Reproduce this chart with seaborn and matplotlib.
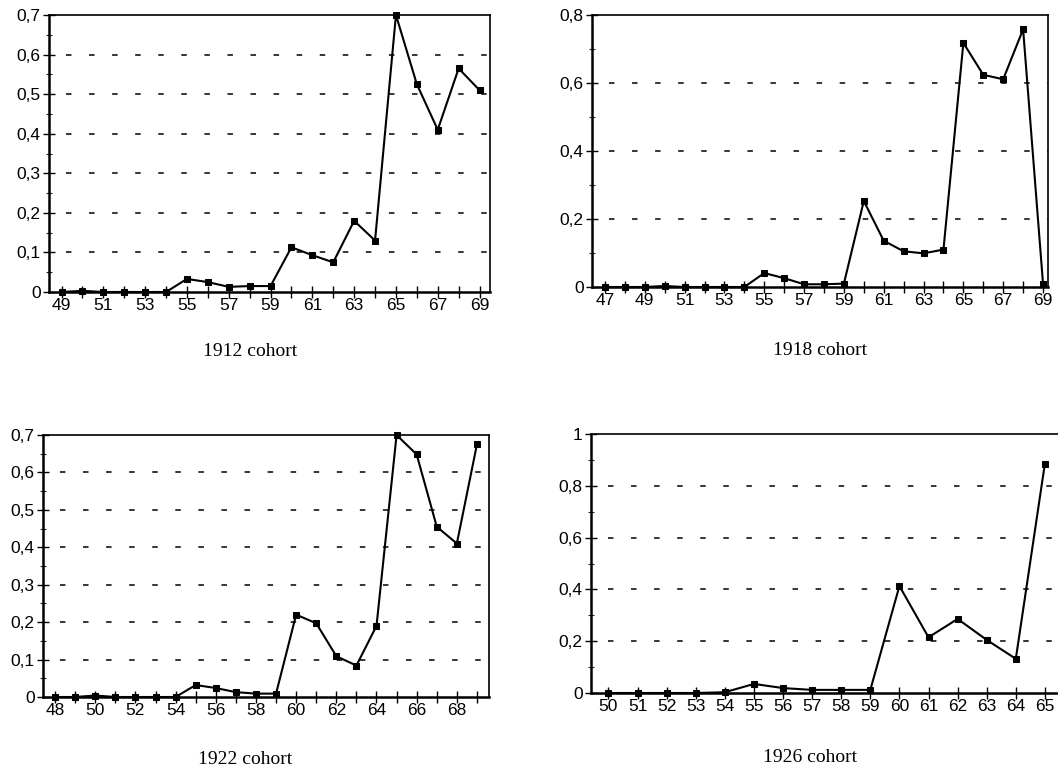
import numpy as np
import pandas as pd
import matplotlib
matplotlib.use("Agg")
import matplotlib.pyplot as plt
from matplotlib.ticker import FixedLocator, MultipleLocator, FuncFormatter
import seaborn as sns

# ---- data ----
ages_1912 = list(range(49, 70))
rate_1912 = [0, 0.003, 0, 0, 0, 0, 0.033, 0.025, 0.013, 0.015, 0.015, 0.113, 0.093,
             0.075, 0.18, 0.13, 0.70, 0.525, 0.41, 0.565, 0.51]

ages_1918 = list(range(47, 70))
rate_1918 = [0, 0, 0, 0.003, 0, 0, 0, 0, 0.041, 0.026, 0.008, 0.008, 0.01, 0.253,
             0.136, 0.105, 0.099, 0.11, 0.718, 0.624, 0.611, 0.758, 0.01]

ages_1922 = list(range(48, 70))
rate_1922 = [0, 0, 0.004, 0, 0, 0, 0, 0.032, 0.024, 0.013, 0.009, 0.009, 0.22, 0.197,
             0.109, 0.084, 0.19, 0.70, 0.648, 0.455, 0.41, 0.675]

ages_1926 = list(range(50, 66))
rate_1926 = [0, 0, 0, 0, 0.003, 0.035, 0.019, 0.012, 0.012, 0.012, 0.413, 0.215,
             0.286, 0.205, 0.132, 0.886]

titles = ["1912 cohort", "1918 cohort", "1922 cohort", "1926 cohort"]
xlabels_1912 = list(range(49, 70, 2))
xlabels_1918 = list(range(47, 70, 2))
xlabels_1922 = list(range(48, 69, 2))
xlabels_1926 = list(range(50, 66))

sns.set_style("white")
plt.rcParams["font.family"] = ["Liberation Sans", "DejaVu Sans"]

fig = plt.figure(figsize=(10.58, 7.77), dpi=100)
W, H = 1058, 777

def rect(l, t, r, b):
    return [l / W, 1 - b / H, (r - l) / W, (b - t) / H]

panels = [
    dict(ages=ages_1912, rate=rate_1912, rect=rect(49, 15, 490, 292), xlim=(48.4, 69.5),
         ymax=0.7, major=0.1, minor=0.05, labels=xlabels_1912, title=titles[0],
         cap=(250, 352), right=True),
    dict(ages=ages_1918, rate=rate_1918, rect=rect(592, 15, 1048, 287), xlim=(46.35, 69.25),
         ymax=0.8, major=0.2, minor=0.1, labels=xlabels_1918, title=titles[1],
         cap=(820, 350), right=True),
    dict(ages=ages_1922, rate=rate_1922, rect=rect(43, 435, 489, 697), xlim=(47.4, 69.6),
         ymax=0.7, major=0.1, minor=0.05, labels=xlabels_1922, title=titles[2],
         cap=(245, 760), right=True),
    dict(ages=ages_1926, rate=rate_1926, rect=rect(591, 434, 1058, 693), xlim=(49.4, 65.45),
         ymax=1.0, major=0.2, minor=0.1, labels=xlabels_1926, title=titles[3],
         cap=(810, 758), right=False),
]

fmt = FuncFormatter(lambda v, p: f"{v:g}".replace(".", ","))

for p in panels:
    ax = fig.add_axes(p["rect"])
    df = pd.DataFrame({"age": p["ages"], "rate": p["rate"]})
    sns.lineplot(data=df, x="age", y="rate", ax=ax, color="black", linewidth=1.5,
                 marker="s", markersize=5, markeredgecolor="black",
                 markerfacecolor="black", zorder=5, clip_on=False)
    ax.set_xlim(*p["xlim"])
    ax.set_ylim(0, p["ymax"])
    ax.set_xlabel("")
    ax.set_ylabel("")
    ax.xaxis.set_major_locator(FixedLocator(p["ages"]))
    ax.set_xticklabels([str(a) if a in p["labels"] else "" for a in p["ages"]])
    ax.yaxis.set_major_locator(MultipleLocator(p["major"]))
    ax.yaxis.set_minor_locator(MultipleLocator(p["minor"]))
    ax.yaxis.set_major_formatter(fmt)
    ax.tick_params(axis="x", which="major", direction="inout", length=8, width=1.0,
                   labelsize=12.5, pad=0, colors="black")
    ax.tick_params(axis="y", which="major", direction="inout", length=8, width=1.0,
                   labelsize=12.5, pad=2, colors="black", left=True)
    ax.tick_params(axis="y", which="minor", direction="inout", length=5, width=0.8,
                   left=True)
    ax.tick_params(bottom=True, left=True)
    ax.grid(False)
    levels = np.arange(p["major"], p["ymax"] - 1e-9, p["major"])
    for lv in levels:
        ax.axhline(lv, color="black", linewidth=1.1, linestyle=(4, (3.6, 11.5)), zorder=1)
    for side in ["left", "bottom"]:
        ax.spines[side].set_linewidth(1.8)
        ax.spines[side].set_color("black")
    ax.spines["top"].set_linewidth(1.2)
    ax.spines["top"].set_color("black")
    ax.spines["right"].set_linewidth(1.2)
    ax.spines["right"].set_color("black")
    ax.spines["right"].set_visible(p["right"])
    cx, cy = p["cap"]
    fig.text(cx / W, 1 - cy / H, p["title"], ha="center", va="center",
             fontsize=14, family=["Liberation Serif", "DejaVu Serif"], color="black")

fig.savefig("out.png", dpi=100, facecolor="white")
